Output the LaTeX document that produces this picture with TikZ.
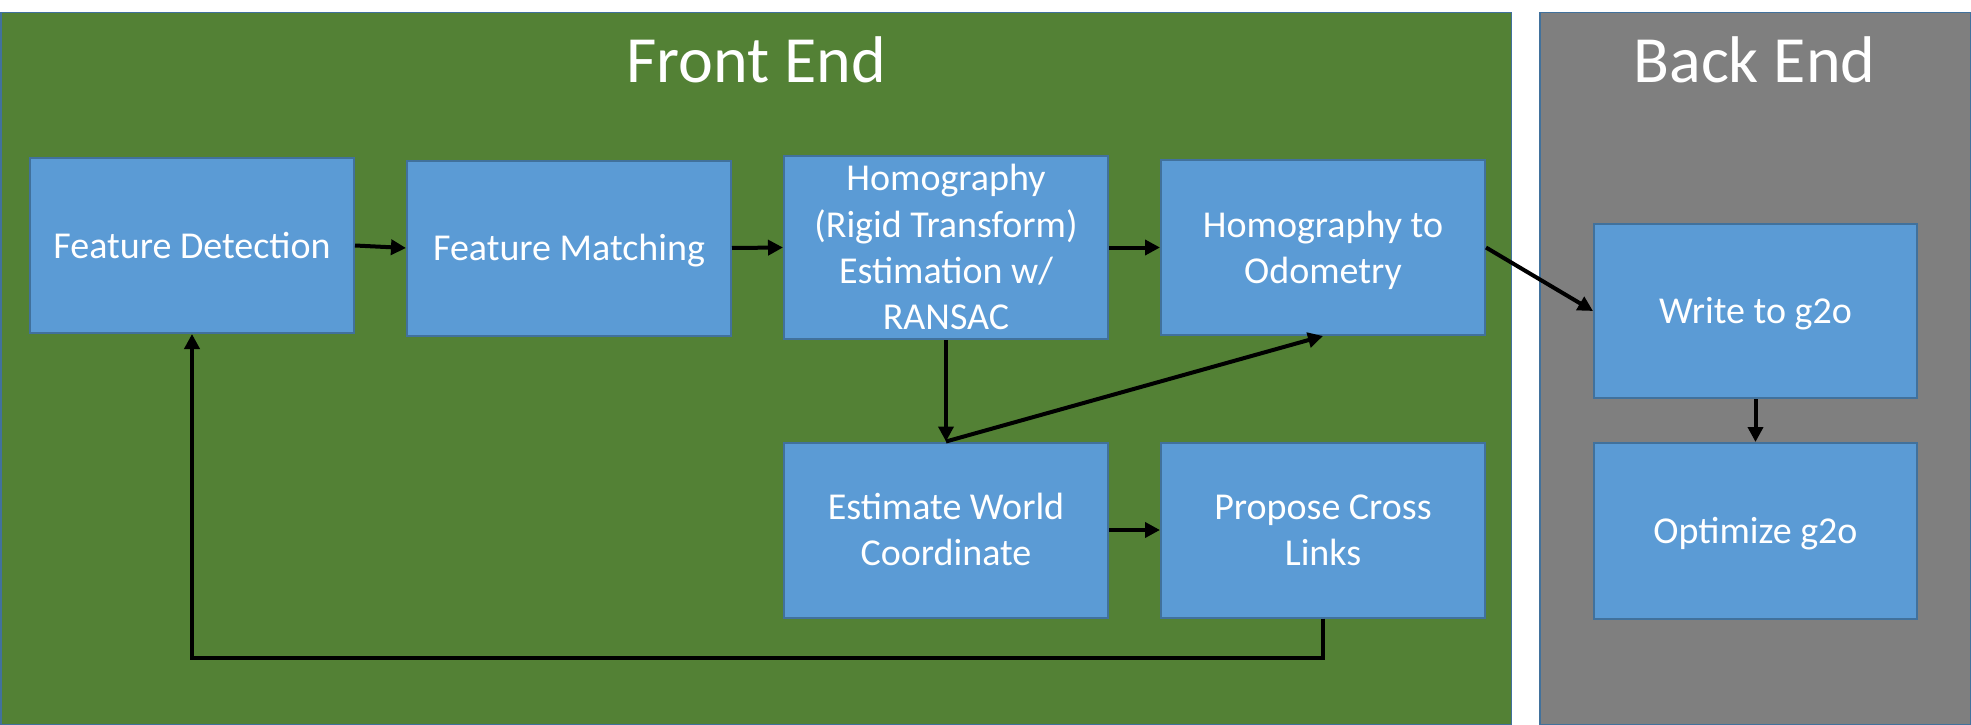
\documentclass[tikz,border=0pt]{standalone}
\usepackage{fontspec}
\setmainfont{Carlito}
\usetikzlibrary{arrows.meta}
\definecolor{fegreen}{HTML}{538135}
\definecolor{begray}{HTML}{7F7F7F}
\definecolor{boxblue}{HTML}{5B9BD5}
\definecolor{boxedge}{HTML}{41719C}
\newcommand\lnstrut{\rule[-9.95pt]{0pt}{45.2pt}}
\begin{document}
\begin{tikzpicture}[x=1pt,y=-1pt,
  panel/.style={draw=boxedge,line width=1.5pt},
  procbox/.style={draw=boxedge,fill=boxblue,line width=2pt,minimum width=324pt,minimum height=175pt,inner sep=0pt,text=white,font=\fontsize{38}{45}\selectfont,align=center},
  paneltitle/.style={text=white,font=\fontsize{66}{78}\selectfont,anchor=base,inner sep=0pt},
  flow/.style={line width=4pt,-{Triangle[length=15pt,width=15pt]}}]
\useasboundingbox (0,0) rectangle (1971,725);
\fill[white] (0,0) rectangle (1971,725);
\path[panel,fill=fegreen] (0.75,12.75) rectangle (1511.25,724.25);
\path[panel,fill=begray] (1539.75,12.75) rectangle (1970.25,724.25);
\node[paneltitle] (fetitle) at (756,82) {Front End};
\node[paneltitle] (betitle) at (1754.5,82) {Back End};
\node[procbox] (fd) at (192,245.5) {\lnstrut Feature Detection};
\node[procbox] (fm) at (569,248) {\lnstrut Feature Matching};
\node[procbox] (hg) at (946,247.5) {\lnstrut Homography\\\lnstrut (Rigid Transform)\\\lnstrut Estimation w/\\\lnstrut RANSAC};
\node[procbox] (ho) at (1323,247.5) {\lnstrut Homography to\\\lnstrut Odometry};
\node[procbox] (ew) at (946,530) {\lnstrut Estimate World\\\lnstrut Coordinate};
\node[procbox] (pc) at (1323,530) {\lnstrut Propose Cross\\\lnstrut Links};
\node[procbox,minimum width=323pt,minimum height=174pt] (wg) at (1755.5,311) {\lnstrut Write to g2o};
\node[procbox,minimum width=323pt,minimum height=176pt] (og) at (1755.5,531) {\lnstrut Optimize g2o};
\draw[flow] (fd.east) -- (fm.west);
\draw[flow] (fm.east) -- (hg.west);
\draw[flow] (hg.east) -- (ho.west);
\draw[flow] (hg.south) -- (ew.north);
\draw[flow] (ew.north) -- (ho.south);
\draw[flow] (ew.east) -- (pc.west);
\draw[flow] (ho.east) -- (wg.west);
\draw[flow] (wg.south) -- (og.north);
\draw[flow] (pc.south) -- ++(0,39) -| (fd.south);
\end{tikzpicture}
\end{document}
